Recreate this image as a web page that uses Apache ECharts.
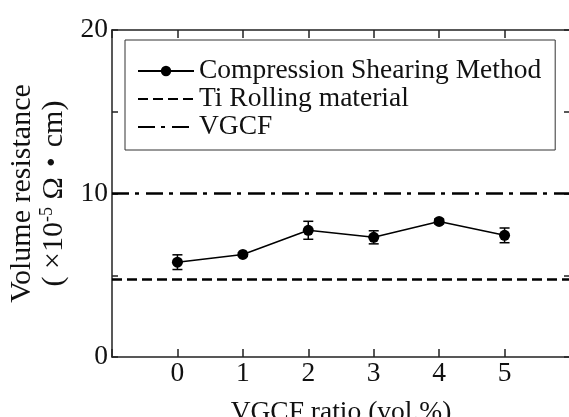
<!DOCTYPE html>
<html>
<head>
<meta charset="utf-8">
<script src="https://cdn.jsdelivr.net/npm/echarts@6/dist/echarts.min.js"></script>
<style>html,body{margin:0;padding:0;background:#fff;}#c{width:569px;height:417px;}</style>
</head>
<body>
<div id="c"></div>
<script>
var xVals = [0, 1, 2, 3, 4, 5];
var meanVals = [5.8, 6.27, 7.75, 7.32, 8.29, 7.44];
var errVals = [0.45, 0.1, 0.55, 0.4, 0.15, 0.45];
var tiValue = 4.74;
var vgcfValue = 10;
var lineXRange = [-1, 6];
var seriesNames = ['Compression Shearing Method', 'Ti Rolling material', 'VGCF'];

var SERIF = "'Liberation Serif','Times New Roman','Noto Sans CJK JP',serif";
var ink = '#111';
var FS = 27.5;
var YFS = 30;

var mainData = xVals.map(function (x, i) { return [x, meanVals[i]]; });
var errData = xVals.map(function (x, i) { return [x, meanVals[i] - errVals[i], meanVals[i] + errVals[i]]; });

var axisLineStyle = { color: '#222', width: 1.5 };

var chart = echarts.init(document.getElementById('c'), null, { renderer: 'canvas' });
chart.setOption({
  backgroundColor: '#fff',
  animation: false,
  grid: { left: 112, top: 30, right: -1, bottom: 60, containLabel: false, outerBoundsMode: 'none' },
  legend: {
    orient: 'vertical',
    left: 125, top: 40,
    padding: [17, 14, 9, 12],
    itemGap: 0,
    itemWidth: 56, itemHeight: 13,
    borderColor: '#333', borderWidth: 1,
    textStyle: { fontFamily: SERIF, fontSize: FS, color: ink, lineHeight: 28 },
    data: [
      { name: seriesNames[0] },
      { name: seriesNames[1], itemStyle: { opacity: 0 } },
      { name: seriesNames[2], itemStyle: { opacity: 0 } }
    ]
  },
  xAxis: [{
    type: 'value', min: -1, max: 6, interval: 1, position: 'bottom',
    axisLine: { show: true, onZero: false, lineStyle: axisLineStyle },
    axisTick: { show: true, inside: true, length: 8, lineStyle: axisLineStyle },
    axisLabel: {
      margin: 3, fontFamily: SERIF, fontSize: FS, color: ink,
      formatter: function (v) { return (v >= 0 && v <= 5) ? String(v) : ''; }
    },
    splitLine: { show: false },
    name: 'VGCF ratio (vol.%)', nameLocation: 'middle', nameGap: 42,
    nameTextStyle: { fontFamily: SERIF, fontSize: FS, color: ink }
  }, {
    type: 'value', min: -1, max: 6, interval: 1, position: 'top',
    axisLine: { show: true, onZero: false, lineStyle: axisLineStyle },
    axisTick: { show: true, inside: true, length: 8, lineStyle: axisLineStyle },
    axisLabel: { show: false },
    splitLine: { show: false }
  }],
  yAxis: [{
    type: 'value', min: 0, max: 20, interval: 5, position: 'left',
    axisLine: { show: true, onZero: false, lineStyle: axisLineStyle },
    axisTick: { show: true, inside: true, length: 6, lineStyle: axisLineStyle },
    axisLabel: {
      margin: 4, fontFamily: SERIF, fontSize: FS, color: ink,
      formatter: function (v) { return (v % 10 === 0) ? String(v) : ''; }
    },
    splitLine: { show: false },
    name: '{a|Volume resistance}\n{a|( ×10}{s|-5}{a| Ω・cm)}',
    nameLocation: 'middle', nameGap: 37, nameRotate: 90,
    nameTextStyle: {
      rich: {
        a: { fontFamily: SERIF, fontSize: YFS, color: ink, lineHeight: 32 },
        s: { fontFamily: SERIF, fontSize: 18, color: ink, lineHeight: 18, verticalAlign: 'top' }
      }
    }
  }, {
    type: 'value', min: 0, max: 20, interval: 5, position: 'right',
    axisLine: { show: true, onZero: false, lineStyle: axisLineStyle },
    axisTick: { show: true, inside: true, length: 6, lineStyle: axisLineStyle },
    axisLabel: { show: false },
    splitLine: { show: false }
  }],
  series: [{
    name: seriesNames[0], type: 'line', data: mainData,
    symbol: 'circle', symbolSize: 11,
    itemStyle: { color: '#000' },
    lineStyle: { color: '#000', width: 1.5 },
    z: 5
  }, {
    name: seriesNames[1], type: 'line',
    data: lineXRange.map(function (x) { return [x, tiValue]; }),
    symbol: 'none', itemStyle: { color: '#000' },
    lineStyle: { color: '#000', width: 2.5, type: [10, 5] }
  }, {
    name: seriesNames[2], type: 'line',
    data: lineXRange.map(function (x) { return [x, vgcfValue]; }),
    symbol: 'none', itemStyle: { color: '#000' },
    lineStyle: { color: '#000', width: 2.5, type: [17, 6, 4, 7] }
  }, {
    name: 'err', type: 'custom', data: errData, z: 4,
    renderItem: function (params, api) {
      var x = api.value(0);
      var lo = api.coord([x, api.value(1)]);
      var hi = api.coord([x, api.value(2)]);
      var hw = 5;
      var st = { stroke: '#000', lineWidth: 1.5 };
      return {
        type: 'group', children: [
          { type: 'line', shape: { x1: lo[0], y1: lo[1], x2: hi[0], y2: hi[1] }, style: st },
          { type: 'line', shape: { x1: lo[0] - hw, y1: lo[1], x2: lo[0] + hw, y2: lo[1] }, style: st },
          { type: 'line', shape: { x1: hi[0] - hw, y1: hi[1], x2: hi[0] + hw, y2: hi[1] }, style: st }
        ]
      };
    }
  }]
});
</script>
</body>
</html>
